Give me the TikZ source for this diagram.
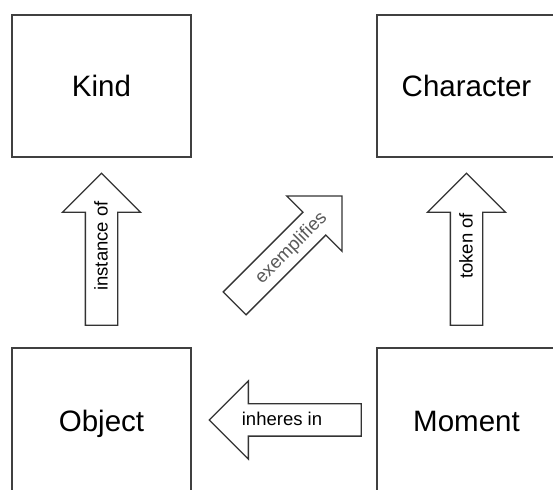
\documentclass[tikz,border=0pt]{standalone}
\usepackage{fontspec}
\setmainfont{Liberation Sans}
\usetikzlibrary{shapes.arrows,calc}

\tikzset{
  concept/.style={draw=black!75, line width=2.3pt, minimum width=179pt,
    minimum height=#1, text height=27pt, text depth=5pt,
    font=\fontsize{29.5}{34}\selectfont},
  concept/.default=142pt,
  relation/.style={single arrow, draw=black!80, line width=1.3pt, fill=white,
    minimum height=152pt, minimum width=77pt, single arrow head extend=23pt,
    text height=13pt, text depth=3pt, inner ysep=7.5pt, inner xsep=0pt,
    anchor=tail},
  rellabel/.style={inner sep=0pt, text height=14pt, text depth=2pt,
    font=\fontsize{18.5}{22}\selectfont},
}

\begin{document}
\begin{tikzpicture}
  \clip (0,0) rectangle (553pt,489pt);
  % the four categories
  \node[concept] (kind) at (101.5pt,403pt) {Kind};
  \node[concept] (char) at (466.5pt,403pt) {Character};
  \node[concept=146pt] (obj) at (101.5pt,68pt) {Object};
  \node[concept=146pt] (mom) at (466.5pt,68pt) {Moment};
  % relations between them
  \node[relation, rotate=90] (instof) at ($(obj.north)+(0,21pt)$) {};
  \node[relation, rotate=45] (exempl) at ($(obj.north east)+(42pt,43pt)$) {};
  \node[relation, rotate=90] (tokof) at ($(mom.north)+(0,21pt)$) {};
  \node[relation, shape border rotate=180] (inh) at ($(mom.west)+(-14pt,1pt)$) {};
  % their labels
  \node[rellabel, rotate=90] (instof-l) at ($(instof.tip)!0.48!(instof.tail)$) {instance of};
  \node[rellabel, rotate=45, text=black!65] (exempl-l) at ($(exempl.tip)!0.48!(exempl.tail)$) {exemplifies};
  \node[rellabel, rotate=90] (tokof-l) at ($(tokof.tip)!0.48!(tokof.tail)$) {token of};
  \node[rellabel] (inh-l) at ($(inh.tip)!0.48!(inh.tail)$) {inheres in};
\end{tikzpicture}
\end{document}
